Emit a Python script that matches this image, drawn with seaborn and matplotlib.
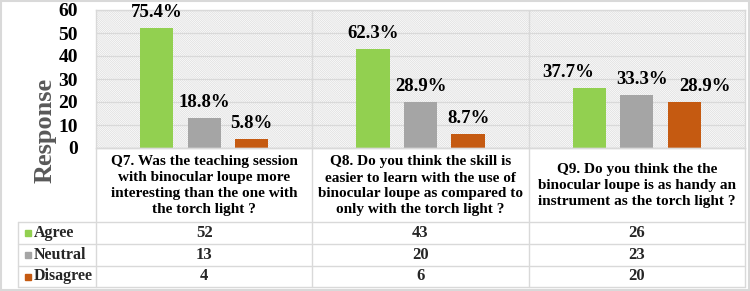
import pandas as pd
import matplotlib.pyplot as plt
import matplotlib.patches as mpatches
import seaborn as sns

# data
questions = [
    "Q7. Was the teaching session\nwith binocular loupe more\ninteresting than the one with\nthe torch light ?",
    "Q8. Do you think the skill is\neasier to learn with the use of\nbinocular loupe as compared to\nonly with the torch light ?",
    "Q9. Do you think the the\nbinocular loupe is as handy an\ninstrument as the torch light ?",
]
responses = ["Agree", "Neutral", "Disagree"]
agree = [52, 43, 26]
neutral = [13, 20, 23]
disagree = [4, 6, 20]
pct_agree = ["75.4%", "62.3%", "37.7%"]
pct_neutral = ["18.8%", "28.9%", "33.3%"]
pct_disagree = ["5.8%", "8.7%", "28.9%"]
y_ticks = [0, 10, 20, 30, 40, 50, 60]

colors = ["#92D050", "#A5A5A5", "#C55A11"]
GRID = "#D9D9D9"
FONT = "Liberation Serif"

rows = []
for series, vals in zip(responses, [agree, neutral, disagree]):
    for q, v in zip(questions, vals):
        rows.append({"question": q, "response": series, "count": v})
df = pd.DataFrame(rows)

sns.set_theme(style="white")
plt.rcParams["font.family"] = [FONT, "DejaVu Serif"]
plt.rcParams["font.weight"] = "bold"
plt.rcParams["hatch.color"] = "#DEDEDE"
plt.rcParams["hatch.linewidth"] = 0.55

W, H = 750, 291
fig = plt.figure(figsize=(W / 100, H / 100), dpi=100)
fig.patch.set_facecolor("white")

# plot area in pixel terms
left, right, top, bottom = 96, 745, 10, 148
ax = fig.add_axes([left / W, 1 - bottom / H, (right - left) / W, (bottom - top) / H])

ax.add_patch(mpatches.Rectangle((0, 0), 1, 1, transform=ax.transAxes,
                                facecolor="white", edgecolor="#DEDEDE", lw=0,
                                hatch="\\" * 16, zorder=0))

sns.barplot(data=df, x="question", y="count", hue="response",
            palette=colors, width=0.66, gap=0.3, saturation=1,
            legend=False, ax=ax, zorder=2, linewidth=0)

ax.set_ylim(0, 60)
ax.set_yticks(y_ticks)
ax.set_xlim(-0.5, 2.5)
ax.set_xticks([])
ax.set_xlabel("")
ax.set_ylabel("")
ax.grid(axis="y", color=GRID, lw=0.9)
ax.set_axisbelow(True)
for s in ax.spines.values():
    s.set_color(GRID)
    s.set_linewidth(1)
ax.axvline(0.5, color=GRID, lw=1)
ax.axvline(1.5, color=GRID, lw=1)
ax.tick_params(axis="y", length=0, pad=13, labelsize=14)
for t in ax.get_yticklabels():
    t.set_fontweight("bold")
    t.set_color("black")

# percentage labels, Q9 outer ones nudged sideways like the original
nudge = [[0, 0, -15], [0, 0, 4], [0, 0, 15]]
for i, (cont, labels) in enumerate(zip(ax.containers, [pct_agree, pct_neutral, pct_disagree])):
    for j, (bar, lab) in enumerate(zip(cont, labels)):
        ax.annotate(lab, (bar.get_x() + bar.get_width() / 2, bar.get_height()),
                    xytext=(nudge[i][j], 5), textcoords="offset points",
                    ha="center", va="bottom", fontsize=13.5, fontweight="bold",
                    color="black", annotation_clip=False)

ax.text(-0.079, 0.13, "Response", transform=ax.transAxes, rotation=90,
        ha="center", va="center", fontsize=19, fontweight="bold", color="#595959")

# overlay in pixel coordinates for the data table below
ov = fig.add_axes([0, 0, 1, 1], zorder=5)
ov.set_xlim(0, W)
ov.set_ylim(H, 0)
ov.axis("off")
ov.patch.set_alpha(0)

tab_left = 18
row_lines = [222, 244, 266, 287]
col_edges = [left] + [ax.transData.transform((k + 0.5, 0))[0] for k in range(len(questions))]
col_edges[-1] = right

ov.plot([left, right], [bottom, bottom], color=GRID, lw=1)
for y in row_lines:
    ov.plot([tab_left, right], [y, y], color=GRID, lw=1)
ov.plot([tab_left, tab_left], [row_lines[0], row_lines[-1]], color=GRID, lw=1)
for x in col_edges:
    ov.plot([x, x], [bottom, row_lines[-1]], color=GRID, lw=1)

for k, q in enumerate(questions):
    cx = (col_edges[k] + col_edges[k + 1]) / 2
    ov.text(cx, (bottom + row_lines[0]) / 2 + 1, q, ha="center", va="center",
            fontsize=11, fontweight="bold", linespacing=1.3, color="black")

for r, (name, vals, c) in enumerate(zip(responses, [agree, neutral, disagree], colors)):
    cy = (row_lines[r] + row_lines[r + 1]) / 2
    ov.add_patch(mpatches.Rectangle((25, cy - 3), 6, 6, color=c))
    ov.text(34, cy, name, ha="left", va="center", fontsize=11.5, fontweight="bold")
    for k, v in enumerate(vals):
        cx = (col_edges[k] + col_edges[k + 1]) / 2
        ov.text(cx, cy, str(v), ha="center", va="center", fontsize=12, fontweight="bold")

ov.add_patch(mpatches.Rectangle((1, 1), W - 2, H - 2, fill=False, edgecolor=GRID, lw=1.5))

fig.savefig("out.png", dpi=100)
